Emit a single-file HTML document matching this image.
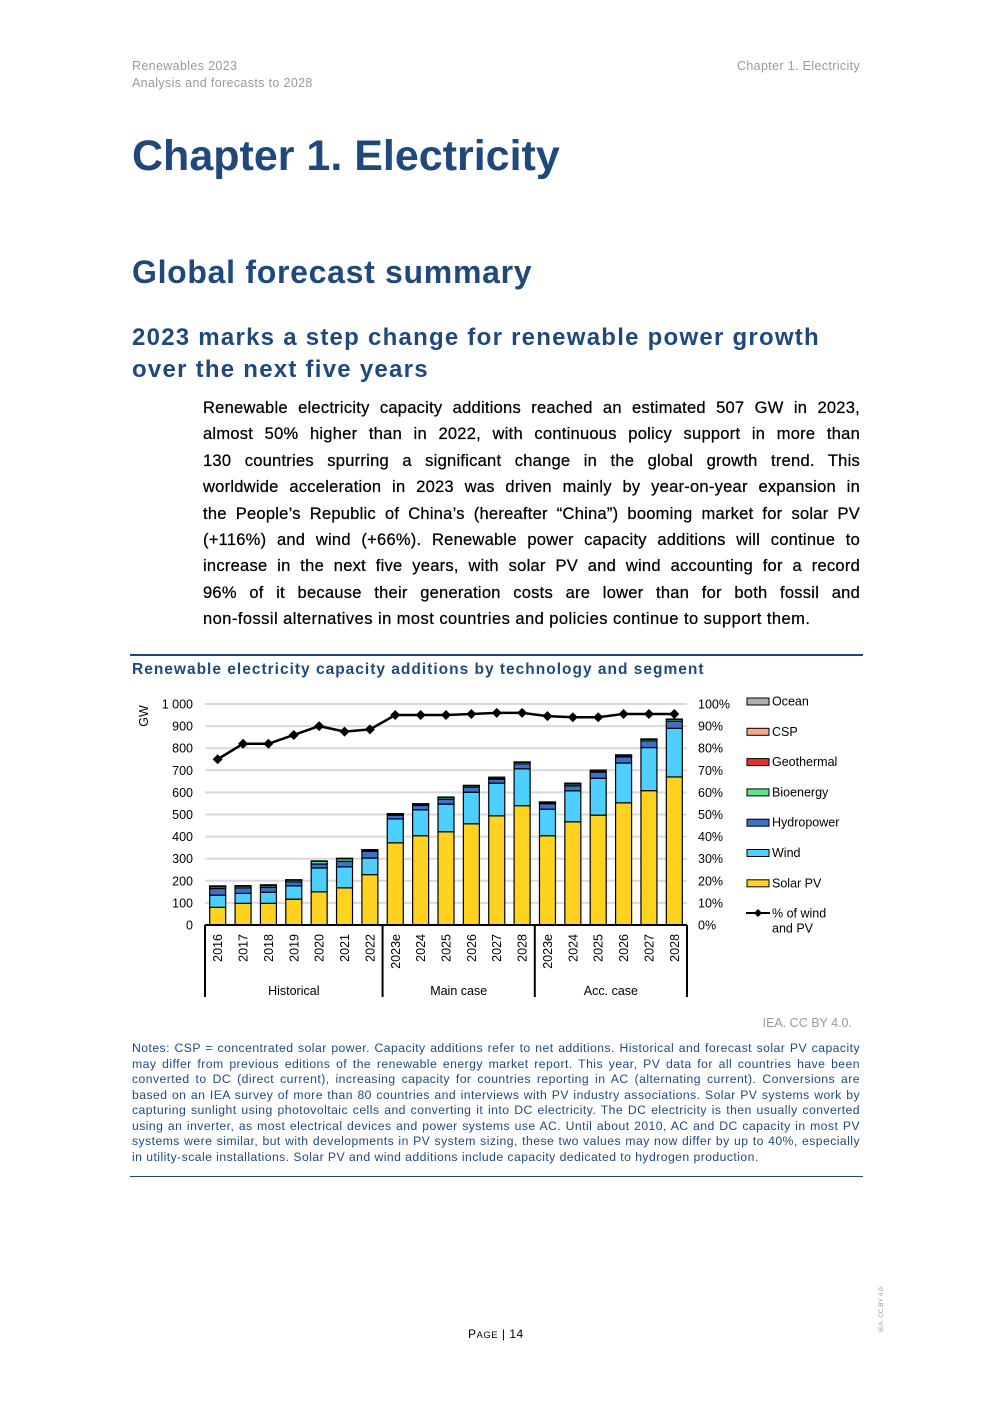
<!DOCTYPE html>
<html><head><meta charset="utf-8">
<style>
body{margin:0;background:#fff;}
#page{position:relative;width:992px;height:1403px;overflow:hidden;font-family:"Liberation Sans",sans-serif;}
.a{position:absolute;white-space:nowrap;}
.hdr{font-size:12.5px;color:#9a9a9a;letter-spacing:0.35px;}
.blue{color:#1f497d;}
#para{position:absolute;left:203px;top:395px;width:657px;font-size:16.5px;line-height:26.4px;color:#000;letter-spacing:0.25px;-webkit-text-stroke:0.25px #000;}
#para div{white-space:nowrap;text-align:justify;text-align-last:justify;height:26.4px;}
#para div.last{text-align-last:left;letter-spacing:0.45px;}
#notes{position:absolute;left:132px;top:1041px;width:728px;font-size:12.2px;line-height:15.5px;text-align:justify;color:#1f497d;letter-spacing:0.45px;}
svg text{font-family:"Liberation Sans",sans-serif;}
</style></head><body>
<div id="page">
<div class="a hdr" style="left:132px;top:59px">Renewables 2023</div>
<div class="a hdr" style="left:132px;top:76px">Analysis and forecasts to 2028</div>
<div class="a hdr" style="right:132px;top:59px">Chapter 1. Electricity</div>
<div class="a blue" style="left:132px;top:132px;font-size:43px;font-weight:bold">Chapter 1. Electricity</div>
<div class="a blue" style="left:132px;top:254px;font-size:32px;font-weight:bold;letter-spacing:0.7px">Global forecast summary</div>
<div class="a blue" style="left:132px;top:322px;font-size:24px;font-weight:bold;line-height:32px;letter-spacing:1.25px">2023 marks a step change for renewable power growth<br>over the next five years</div>
<div id="para">
<div>Renewable electricity capacity additions reached an estimated 507 GW in 2023,</div>
<div>almost 50% higher than in 2022, with continuous policy support in more than</div>
<div>130&nbsp;countries spurring a significant change in the global growth trend. This</div>
<div>worldwide acceleration in 2023 was driven mainly by year-on-year expansion in</div>
<div>the People’s Republic of China’s (hereafter “China”) booming market for solar PV</div>
<div>(+116%) and wind (+66%). Renewable power capacity additions will continue to</div>
<div>increase in the next five years, with solar PV and wind accounting for a record</div>
<div>96% of it because their generation costs are lower than for both fossil and</div>
<div class="last">non-fossil alternatives in most countries and policies continue to support them.</div>
</div>
<div class="a" style="left:130px;top:654px;width:733px;height:2px;background:#1f497d"></div>
<div class="a blue" style="left:132px;top:661px;font-size:15.5px;font-weight:bold;letter-spacing:1px">Renewable electricity capacity additions by technology and segment</div>
<svg id="chart" class="a" style="left:0;top:0" width="992" height="1403"></svg>
<div class="a" style="right:140px;top:1016px;font-size:12.5px;color:#9a9a9a">IEA. CC BY 4.0.</div>
<div id="notes">Notes: CSP = concentrated solar power. Capacity additions refer to net additions. Historical and forecast solar PV capacity may differ from previous editions of the renewable energy market report. This year, PV data for all countries have been converted to DC (direct current), increasing capacity for countries reporting in AC (alternating current). Conversions are based on an IEA survey of more than 80 countries and interviews with PV industry associations. Solar PV systems work by capturing sunlight using photovoltaic cells and converting it into DC electricity. The DC electricity is then usually converted using an inverter, as most electrical devices and power systems use AC. Until about 2010, AC and DC capacity in most PV systems were similar, but with developments in PV system sizing, these two values may now differ by up to 40%, especially in utility-scale installations. Solar PV and wind additions include capacity dedicated to hydrogen production.</div>
<div class="a" style="left:130px;top:1176px;width:733px;height:1px;background:#1f497d"></div>
<div class="a" style="left:468px;top:1327px;font-size:12px;color:#000;letter-spacing:0.5px">P<span style="font-size:9.5px">AGE</span> | 14</div>
<div class="a" style="left:878px;top:1332px;font-size:6.5px;color:#9a9a9a;transform:rotate(-90deg);transform-origin:0 0">IEA. CC BY 4.0.</div>
</div>
<script>
const categories=["2016","2017","2018","2019","2020","2021","2022","2023e","2024","2025","2026","2027","2028","2023e","2024","2025","2026","2027","2028"];
const solarPV=[80,98,98,117,150,168,228,372,404,422,458,494,540,404,467,497,553,608,670];
const wind=[55,45,50,60,108,95,75,108,117,125,143,148,167,120,140,167,180,195,220];
const hydro=[30,25,22,18,18,25,30,17,20,22,22,18,22,25,23,28,28,30,32];
const bioenergy=[8,8,8,8,12,12,5,5,6,8,7,3,7,5,8,3,3,7,8];
const geothermal=[4,2,4,2,2,2,3,2,2,2,2,6,2,1,4,6,6,2,2];
const csp=[0,0,0,0,0,0,0,0,0,0,0,0,0,2,0,0,0,0,0];
const ocean=[0,0,0,0,0,0,0,0,0,0,0,0,0,0,0,0,0,0,0];
const windPvShare=[75,82,82,86,90,87.5,88.5,95,95,95,95.5,96,96,94.5,94,94,95.5,95.5,95.5];
const leftTicks=[0,100,200,300,400,500,600,700,800,900,1000];
const rightTicks=[0,10,20,30,40,50,60,70,80,90,100];
const groups=[{label:"Historical",from:0,to:6},{label:"Main case",from:7,to:12},{label:"Acc. case",from:13,to:18}];

const NS="http://www.w3.org/2000/svg";
const svg=document.getElementById('chart');
function mk(t,a,p){const e=document.createElementNS(NS,t);for(const k in a)e.setAttribute(k,a[k]);(p||svg).appendChild(e);return e;}
const y0=925,yTop=704,x0=205,x1=687;
const yG=v=>y0-(v/1000)*(y0-yTop);
const yP=v=>y0-(v/100)*(y0-yTop);
const step=(x1-x0)/categories.length;
const xC=i=>x0+step*(i+0.5);
const bw=16;

leftTicks.forEach(t=>{
  if(t>0){const g=mk('line',{x1:x0,x2:x1,y1:yG(t),y2:yG(t),stroke:'#d9d9d9','stroke-width':2});
  }
  const l=mk('text',{x:193,y:yG(t)+4.5,'font-size':12.5,'text-anchor':'end',fill:'#000'});
  l.textContent=t===1000?'1 000':String(t);
  
});
rightTicks.forEach(t=>{
  const l=mk('text',{x:698,y:yP(t)+4.5,'font-size':12.5,fill:'#000'});
  l.textContent=t+'%';
  
});
const yt=mk('text',{x:148,y:716,'font-size':12.5,transform:'rotate(-90 148 716)','text-anchor':'middle',fill:'#000'});
yt.textContent='GW';

const series=[[solarPV,'#ffd21f','solar'],[wind,'#4dcfff','wind'],[hydro,'#3f6fc9','hydro'],[bioenergy,'#5fe08a','bioenergy'],[geothermal,'#e03030','geothermal'],[csp,'#f5a88a','csp'],[ocean,'#b0b0b0','ocean']];
categories.forEach((c,i)=>{
  let acc=0;
  series.forEach(([arr,col,nm])=>{
    const v=arr[i];if(v<=0)return;
    const r=mk('rect',{x:xC(i)-bw/2,y:yG(acc+v),width:bw,height:yG(acc)-yG(acc+v),fill:col,stroke:'#000','stroke-width':1.2});
    
    acc+=v;
  });
  const tl=mk('text',{x:0,y:0,'font-size':12.5,'text-anchor':'end',fill:'#000',transform:`translate(${xC(i)+4.5},934) rotate(-90)`});
  tl.textContent=c;
});
mk('line',{x1:x0,x2:x1,y1:y0,y2:y0,stroke:'#000','stroke-width':2});
groups.forEach((g,gi)=>{
  const xl=x0+step*g.from, xr=x0+step*(g.to+1);
  const s=mk('line',{x1:xl,x2:xl,y1:y0,y2:997,stroke:'#000','stroke-width':2});
  
  if(gi===groups.length-1){const e=mk('line',{x1:xr,x2:xr,y1:y0,y2:997,stroke:'#000','stroke-width':2});}
  const t=mk('text',{x:(xl+xr)/2,y:995,'font-size':12.5,'text-anchor':'middle',fill:'#000'});
  t.textContent=g.label;
});
let d='';windPvShare.forEach((v,i)=>{d+=(i?'L':'M')+xC(i)+' '+yP(v);});
const ln=mk('path',{d:d,fill:'none',stroke:'#000','stroke-width':2.5});

windPvShare.forEach((v,i)=>{
  const x=xC(i),y=yP(v);
  const m=mk('polygon',{points:`${x},${y-5} ${x+5},${y} ${x},${y+5} ${x-5},${y}`,fill:'#000'});
  
});
const legend=[['Ocean','#b0b0b0'],['CSP','#f5a88a'],['Geothermal','#e03030'],['Bioenergy','#5fe08a'],['Hydropower','#3f6fc9'],['Wind','#4dcfff'],['Solar PV','#ffd21f']];
legend.forEach(([n,c],k)=>{
  const y=701+k*30.3;
  const r=mk('rect',{x:747,y:y-3,width:22,height:7,fill:c,stroke:'#000','stroke-width':1});
  
  const t=mk('text',{x:772,y:y+4.5,'font-size':12.5,fill:'#000'});t.textContent=n;
  
});
const ly=913;
mk('line',{x1:746,x2:770,y1:ly,y2:ly,stroke:'#000','stroke-width':2});
mk('polygon',{points:`758,${ly-4} 762,${ly} 758,${ly+4} 754,${ly}`,fill:'#000'});
const lt=mk('text',{x:772,y:ly+4.5,'font-size':12.5,fill:'#000'});lt.textContent='% of wind';

const lt2=mk('text',{x:772,y:ly+19.5,'font-size':12.5,fill:'#000'});lt2.textContent='and PV';

</script>
</body></html>
